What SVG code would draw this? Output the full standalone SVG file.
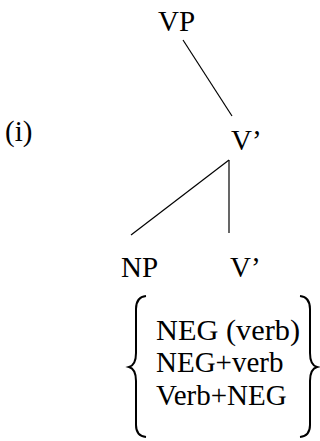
<svg xmlns="http://www.w3.org/2000/svg" width="320" height="441" viewBox="0 0 320 441">
<style>
text{font-family:"Liberation Serif","Times New Roman",serif;fill:#000;font-size:29px}
.l{stroke:#000;stroke-width:1.2;fill:none}
.b{stroke:#000;stroke-width:2;fill:none}
</style>
<rect width="320" height="441" fill="#fff"/>
<g id="label-i"><text x="5" y="141">(i)</text></g>
<g id="VP"><text x="158" y="31">VP</text></g>
<g id="Vbar1"><text x="231" y="150">V’</text></g>
<g id="NP"><text x="121" y="277">NP</text></g>
<g id="Vbar2"><text x="230" y="277">V’</text></g>
<g id="options">
<path class="b" d="M146,296 Q136,297 136,309 L136,353 Q136,365 129,367 Q136,369 136,381 L136,425 Q136,436 146,437"/>
<path class="b" d="M300,296 Q310,297 310,309 L310,353 Q310,365 317,367 Q310,369 310,381 L310,425 Q310,436 300,437"/>
<text x="156" y="340" textLength="144" lengthAdjust="spacingAndGlyphs">NEG (verb)</text>
<text x="156" y="372">NEG+verb</text>
<text x="156" y="405">Verb+NEG</text>
</g>
<g id="connectors">
<line class="l" x1="183" y1="40" x2="232" y2="116"/>
<line class="l" x1="229" y1="160" x2="131" y2="235"/>
<line class="l" x1="229" y1="160" x2="229" y2="233"/>
</g>
</svg>
